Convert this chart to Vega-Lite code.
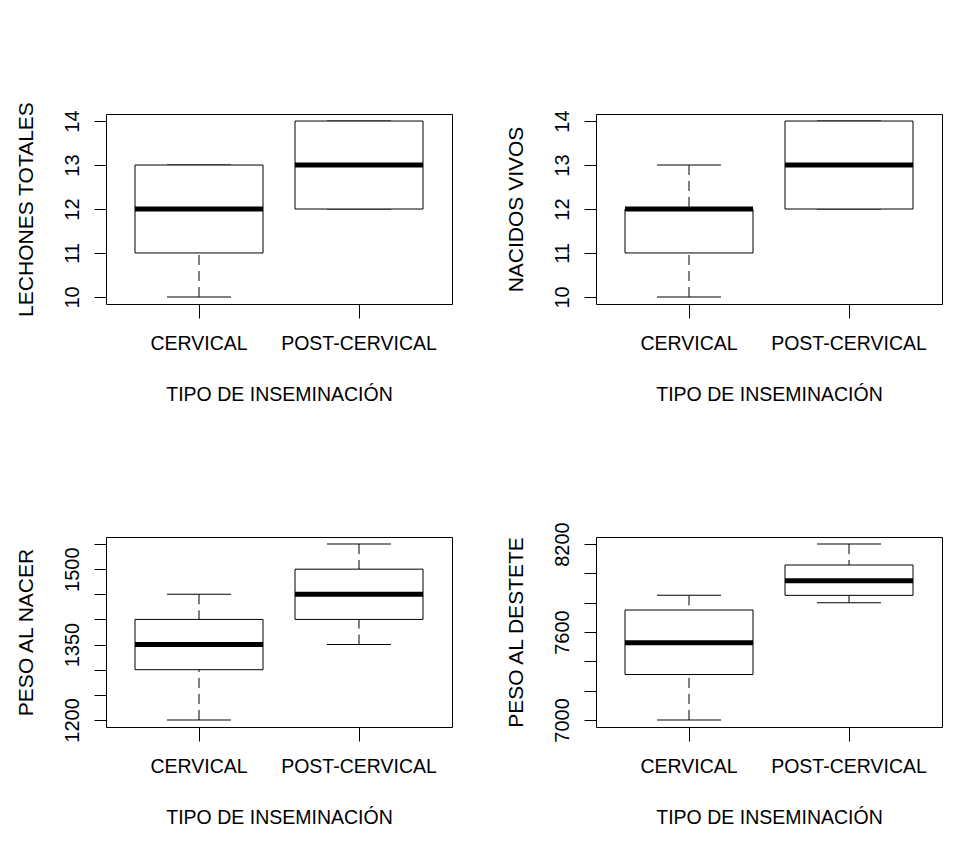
{
  "$schema": "https://vega.github.io/schema/vega-lite/v6.json",
  "background": "white",
  "padding": {"left": 14, "top": 100, "right": 5, "bottom": 5},
  "config": {
    "font": "Liberation Sans",
    "view": {"stroke": "black", "strokeWidth": 1},
    "axis": {"grid": false, "domain": false, "tickColor": "black", "labelColor": "black", "titleColor": "black", "labelFont": "Liberation Sans", "titleFont": "Liberation Sans", "titleFontWeight": "normal", "labelOverlap": false},
    "axisX": {"tickSize": 14, "labelPadding": 25, "labelBaseline": "middle", "labelAngle": 0, "labelFontSize": 19.5, "titleFontSize": 19.5, "titleY": 90, "titleBaseline": "middle"},
    "axisY": {"tickSize": 12, "labelPadding": 22, "labelAngle": -90, "labelAlign": "center", "labelBaseline": "middle", "labelFontSize": 20, "titleFontSize": 21, "titleX": -80, "titleBaseline": "middle", "titleAngle": -90}
  },
  "datasets": {
    "lechones": [
      {"tipo": "CERVICAL", "min": 10, "q1": 11, "median": 12, "q3": 13, "max": 13},
      {"tipo": "POST-CERVICAL", "min": 12, "q1": 12, "median": 13, "q3": 14, "max": 14}
    ],
    "nacidos": [
      {"tipo": "CERVICAL", "min": 10, "q1": 11, "median": 12, "q3": 12, "max": 13},
      {"tipo": "POST-CERVICAL", "min": 12, "q1": 12, "median": 13, "q3": 14, "max": 14}
    ],
    "nacer": [
      {"tipo": "CERVICAL", "min": 1200, "q1": 1300, "median": 1350, "q3": 1400, "max": 1450},
      {"tipo": "POST-CERVICAL", "min": 1350, "q1": 1400, "median": 1450, "q3": 1500, "max": 1550}
    ],
    "destete": [
      {"tipo": "CERVICAL", "min": 7000, "q1": 7310, "median": 7527, "q3": 7750, "max": 7850},
      {"tipo": "POST-CERVICAL", "min": 7800, "q1": 7850, "median": 7950, "q3": 8057, "max": 8200}
    ]
  },
  "columns": 2,
  "spacing": {"row": 233, "column": 144},
  "bounds": "flush",
  "concat": [
    {
      "width": 346, "height": 190,
      "data": {"name": "lechones"},
      "encoding": {"x": {"field": "tipo", "type": "nominal", "sort": ["CERVICAL", "POST-CERVICAL"], "scale": {"paddingInner": 0.2, "paddingOuter": 0.18125}, "axis": {"title": "TIPO DE INSEMINACIÓN"}}},
      "layer": [
        {"mark": {"type": "rule", "color": "black", "opacity": 1, "strokeWidth": 1, "strokeDash": [10, 6]},
         "encoding": {"y": {"field": "max", "type": "quantitative", "title": "LECHONES TOTALES", "scale": {"domain": [9.84, 14.16], "nice": false, "zero": false}, "axis": {"values": [10, 11, 12, 13, 14], "tickCount": 10, "format": "d"}}, "y2": {"field": "q3"}}},
        {"mark": {"type": "rule", "color": "black", "opacity": 1, "strokeWidth": 1, "strokeDash": [10, 6]},
         "encoding": {"y": {"field": "min", "type": "quantitative", "title": "LECHONES TOTALES"}, "y2": {"field": "q1"}}},
        {"mark": {"type": "tick", "color": "black", "opacity": 1, "size": 64, "thickness": 1},
         "encoding": {"y": {"field": "max", "type": "quantitative", "title": "LECHONES TOTALES"}}},
        {"mark": {"type": "tick", "color": "black", "opacity": 1, "size": 64, "thickness": 1},
         "encoding": {"y": {"field": "min", "type": "quantitative", "title": "LECHONES TOTALES"}}},
        {"mark": {"type": "bar", "fill": "white", "stroke": "black", "opacity": 1, "strokeWidth": 1},
         "encoding": {"y": {"field": "q1", "type": "quantitative", "title": "LECHONES TOTALES"}, "y2": {"field": "q3"}}},
        {"mark": {"type": "tick", "color": "black", "opacity": 1, "size": 128, "thickness": 5},
         "encoding": {"y": {"field": "median", "type": "quantitative", "title": "LECHONES TOTALES"}}}
      ]
    },
    {
      "width": 346, "height": 190,
      "data": {"name": "nacidos"},
      "encoding": {"x": {"field": "tipo", "type": "nominal", "sort": ["CERVICAL", "POST-CERVICAL"], "scale": {"paddingInner": 0.2, "paddingOuter": 0.18125}, "axis": {"title": "TIPO DE INSEMINACIÓN"}}},
      "layer": [
        {"mark": {"type": "rule", "color": "black", "opacity": 1, "strokeWidth": 1, "strokeDash": [10, 6]},
         "encoding": {"y": {"field": "max", "type": "quantitative", "title": "NACIDOS VIVOS", "scale": {"domain": [9.84, 14.16], "nice": false, "zero": false}, "axis": {"values": [10, 11, 12, 13, 14], "tickCount": 10, "format": "d"}}, "y2": {"field": "q3"}}},
        {"mark": {"type": "rule", "color": "black", "opacity": 1, "strokeWidth": 1, "strokeDash": [10, 6]},
         "encoding": {"y": {"field": "min", "type": "quantitative", "title": "NACIDOS VIVOS"}, "y2": {"field": "q1"}}},
        {"mark": {"type": "tick", "color": "black", "opacity": 1, "size": 64, "thickness": 1},
         "encoding": {"y": {"field": "max", "type": "quantitative", "title": "NACIDOS VIVOS"}}},
        {"mark": {"type": "tick", "color": "black", "opacity": 1, "size": 64, "thickness": 1},
         "encoding": {"y": {"field": "min", "type": "quantitative", "title": "NACIDOS VIVOS"}}},
        {"mark": {"type": "bar", "fill": "white", "stroke": "black", "opacity": 1, "strokeWidth": 1},
         "encoding": {"y": {"field": "q1", "type": "quantitative", "title": "NACIDOS VIVOS"}, "y2": {"field": "q3"}}},
        {"mark": {"type": "tick", "color": "black", "opacity": 1, "size": 128, "thickness": 5},
         "encoding": {"y": {"field": "median", "type": "quantitative", "title": "NACIDOS VIVOS"}}}
      ]
    },
    {
      "width": 346, "height": 190,
      "data": {"name": "nacer"},
      "encoding": {"x": {"field": "tipo", "type": "nominal", "sort": ["CERVICAL", "POST-CERVICAL"], "scale": {"paddingInner": 0.2, "paddingOuter": 0.18125}, "axis": {"title": "TIPO DE INSEMINACIÓN"}}},
      "layer": [
        {"mark": {"type": "rule", "color": "black", "opacity": 1, "strokeWidth": 1, "strokeDash": [10, 6]},
         "encoding": {"y": {"field": "max", "type": "quantitative", "title": "PESO AL NACER", "scale": {"domain": [1186, 1564], "nice": false, "zero": false}, "axis": {"values": [1200, 1250, 1300, 1350, 1400, 1450, 1500, 1550], "tickCount": 20, "format": "d", "labelOverlap": false, "labelExpr": "datum.value == 1200 || datum.value == 1350 || datum.value == 1500 ? datum.label : ''"}}, "y2": {"field": "q3"}}},
        {"mark": {"type": "rule", "color": "black", "opacity": 1, "strokeWidth": 1, "strokeDash": [10, 6]},
         "encoding": {"y": {"field": "min", "type": "quantitative", "title": "PESO AL NACER"}, "y2": {"field": "q1"}}},
        {"mark": {"type": "tick", "color": "black", "opacity": 1, "size": 64, "thickness": 1},
         "encoding": {"y": {"field": "max", "type": "quantitative", "title": "PESO AL NACER"}}},
        {"mark": {"type": "tick", "color": "black", "opacity": 1, "size": 64, "thickness": 1},
         "encoding": {"y": {"field": "min", "type": "quantitative", "title": "PESO AL NACER"}}},
        {"mark": {"type": "bar", "fill": "white", "stroke": "black", "opacity": 1, "strokeWidth": 1},
         "encoding": {"y": {"field": "q1", "type": "quantitative", "title": "PESO AL NACER"}, "y2": {"field": "q3"}}},
        {"mark": {"type": "tick", "color": "black", "opacity": 1, "size": 128, "thickness": 5},
         "encoding": {"y": {"field": "median", "type": "quantitative", "title": "PESO AL NACER"}}}
      ]
    },
    {
      "width": 346, "height": 190,
      "data": {"name": "destete"},
      "encoding": {"x": {"field": "tipo", "type": "nominal", "sort": ["CERVICAL", "POST-CERVICAL"], "scale": {"paddingInner": 0.2, "paddingOuter": 0.18125}, "axis": {"title": "TIPO DE INSEMINACIÓN"}}},
      "layer": [
        {"mark": {"type": "rule", "color": "black", "opacity": 1, "strokeWidth": 1, "strokeDash": [10, 6]},
         "encoding": {"y": {"field": "max", "type": "quantitative", "title": "PESO AL DESTETE", "scale": {"domain": [6952, 8248], "nice": false, "zero": false}, "axis": {"values": [7000, 7200, 7400, 7600, 7800, 8000, 8200], "tickCount": 20, "format": "d", "labelOverlap": false, "labelExpr": "datum.value == 7000 || datum.value == 7600 || datum.value == 8200 ? datum.label : ''"}}, "y2": {"field": "q3"}}},
        {"mark": {"type": "rule", "color": "black", "opacity": 1, "strokeWidth": 1, "strokeDash": [10, 6]},
         "encoding": {"y": {"field": "min", "type": "quantitative", "title": "PESO AL DESTETE"}, "y2": {"field": "q1"}}},
        {"mark": {"type": "tick", "color": "black", "opacity": 1, "size": 64, "thickness": 1},
         "encoding": {"y": {"field": "max", "type": "quantitative", "title": "PESO AL DESTETE"}}},
        {"mark": {"type": "tick", "color": "black", "opacity": 1, "size": 64, "thickness": 1},
         "encoding": {"y": {"field": "min", "type": "quantitative", "title": "PESO AL DESTETE"}}},
        {"mark": {"type": "bar", "fill": "white", "stroke": "black", "opacity": 1, "strokeWidth": 1},
         "encoding": {"y": {"field": "q1", "type": "quantitative", "title": "PESO AL DESTETE"}, "y2": {"field": "q3"}}},
        {"mark": {"type": "tick", "color": "black", "opacity": 1, "size": 128, "thickness": 5},
         "encoding": {"y": {"field": "median", "type": "quantitative", "title": "PESO AL DESTETE"}}}
      ]
    }
  ]
}
